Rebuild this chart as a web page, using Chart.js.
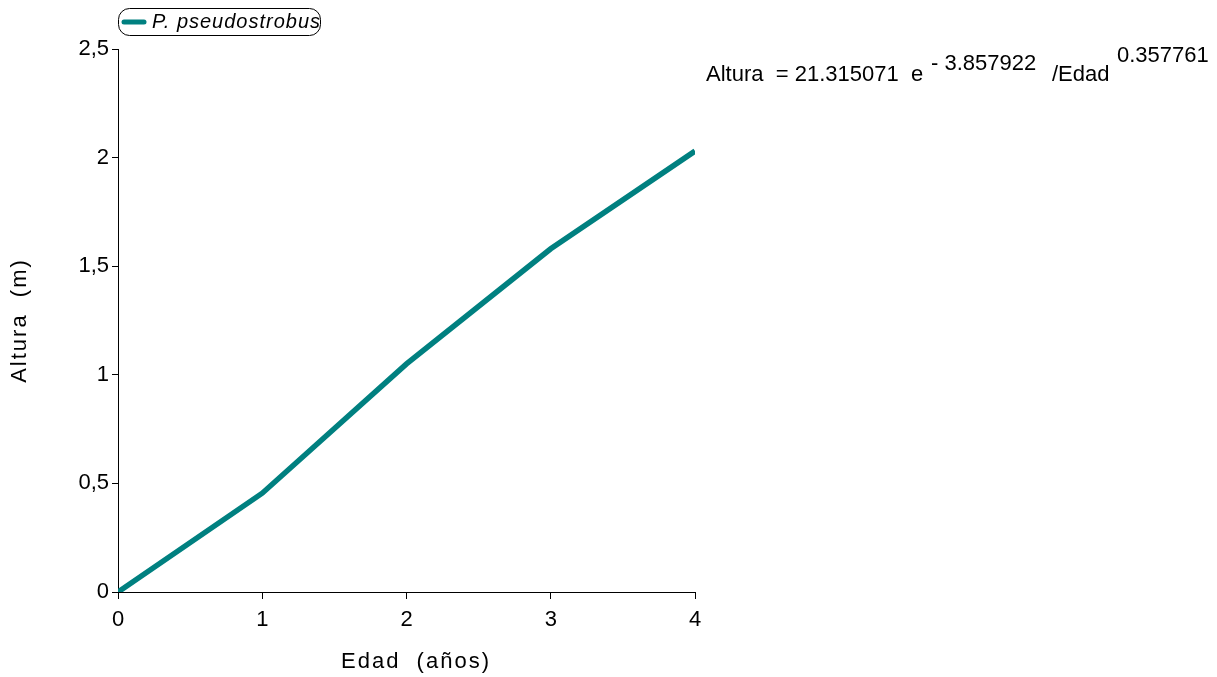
<!DOCTYPE html>
<html>
<head>
<meta charset="utf-8">
<script src="https://cdn.jsdelivr.net/npm/chart.js@4"></script>
<style>
  html, body { margin: 0; padding: 0; background: #fff; }
  #wrap { width: 1217px; height: 677px; }
</style>
</head>
<body>
<div id="wrap"><canvas id="myChart" width="1217" height="677"></canvas></div>
<script>
'use strict';

const edad = [0, 1, 2, 3, 4];
const altura = [0, 0.455, 1.05, 1.58, 2.03];
const seriesName = 'P. pseudostrobus';
const xTicks = [0, 1, 2, 3, 4];
const yTicks = [0, 0.5, 1, 1.5, 2, 2.5];
const xTitle = 'Edad  (años)';
const yTitle = 'Altura  (m)';

const teal = '#008080';
const font = '"Liberation Sans", Arial, sans-serif';

// legend box, axis titles (spaced letters) and fitted equation
const extras = {
    id: 'extras',
    afterDraw(chart) {
        const c = chart.ctx;
        const area = chart.chartArea;
        c.save();
        // legend
        c.strokeStyle = '#000';
        c.lineWidth = 1;
        c.beginPath();
        c.roundRect(118.5, 8.5, 202, 27, 11);
        c.stroke();
        c.strokeStyle = teal;
        c.lineWidth = 5;
        c.lineCap = 'round';
        c.beginPath();
        c.moveTo(124, 22);
        c.lineTo(144, 22);
        c.stroke();
        c.fillStyle = '#000';
        c.textBaseline = 'middle';
        c.letterSpacing = '1px';
        c.font = 'italic 20px ' + font;
        c.fillText(seriesName, 152, 22);

        // axis titles
        c.letterSpacing = '2px';
        c.font = '22px ' + font;
        c.textAlign = 'center';
        c.fillText(xTitle, 416, 662);
        c.save();
        c.translate(20, (area.top + area.bottom) / 2);
        c.rotate(-Math.PI / 2);
        c.fillText(yTitle, 0, 0);
        c.restore();

        // equation
        c.letterSpacing = '0px';
        c.textAlign = 'left';
        c.font = '22px ' + font;
        c.textBaseline = 'alphabetic';
        c.fillText('Altura  = 21.315071  e', 706, 81);
        c.fillText('- 3.857922', 931, 70);
        c.fillText('/Edad', 1052, 81);
        c.fillText('0.357761', 1117, 62);
        c.restore();
    },
};

const data = {
    datasets: [
        {
            label: seriesName,
            data: edad.map((x, i) => ({ x: x, y: altura[i] })),
            borderColor: teal,
            backgroundColor: teal,
            borderWidth: 5.5,
            pointRadius: 0,
            tension: 0,
        },
    ],
};

const myChart = new Chart(document.getElementById('myChart'), {
    type: 'line',
    data: data,
    plugins: [extras],
    options: {
        responsive: false,
        animation: false,
        layout: {
            padding: { top: 49, right: 522, bottom: 0, left: 0 },
        },
        plugins: {
            legend: { display: false },
            tooltip: { enabled: false },
        },
        scales: {
            x: {
                type: 'linear',
                min: 0,
                max: 4,
                afterBuildTicks: (axis) => {
                    axis.ticks = xTicks.map((v) => ({ value: v }));
                },
                afterFit: (axis) => {
                    axis.height = 85;
                },
                grid: {
                    drawOnChartArea: false,
                    tickLength: 7,
                    color: '#000',
                },
                border: { color: '#000', width: 1 },
                ticks: {
                    color: '#000',
                    padding: 8,
                    font: { family: font, size: 22 },
                },
            },
            y: {
                min: 0,
                max: 2.5,
                afterBuildTicks: (axis) => {
                    axis.ticks = yTicks.map((v) => ({ value: v }));
                },
                afterFit: (axis) => {
                    axis.width = 118;
                },
                grid: {
                    drawOnChartArea: false,
                    tickLength: 6,
                    color: '#000',
                },
                border: { color: '#000', width: 1 },
                ticks: {
                    color: '#000',
                    padding: 3,
                    font: { family: font, size: 22 },
                    callback: (v) => String(v).replace('.', ','),
                },
            },
        },
    },
});
</script>
</body>
</html>
